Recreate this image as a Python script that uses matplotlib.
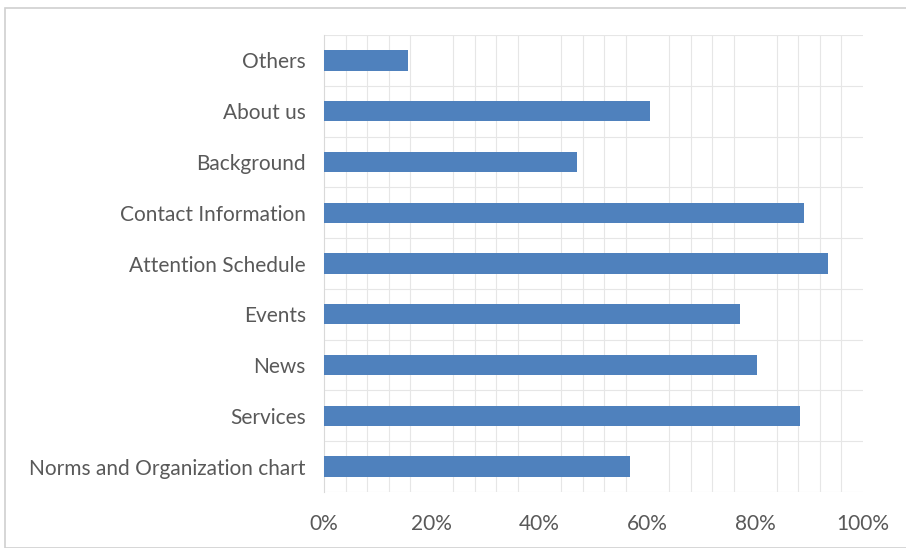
import matplotlib
matplotlib.use("Agg")
import matplotlib.pyplot as plt
from matplotlib.patches import Rectangle
import numpy as np

categories = ["Norms and Organization chart", "Services", "News", "Events",
              "Attention Schedule", "Contact Information", "Background",
              "About us", "Others"]
values = [56.8, 88.3, 80.3, 77.2, 93.5, 89.1, 46.9, 60.5, 15.6]
xticks = [0, 20, 40, 60, 80, 100]
xticklabels = ["0%", "20%", "40%", "60%", "80%", "100%"]

plt.rcParams['font.family'] = ['Lato', 'DejaVu Sans']
fig = plt.figure(figsize=(9.06, 5.48), dpi=100)
ax = fig.add_axes([324/906, 1-492/548, (863-324)/906, (492-35)/548])

y = np.arange(len(categories))
ax.barh(y, values, height=0.4, color="#4f81bd", zorder=3)
ax.set_xlim(0, 100)
ax.set_ylim(-0.5, len(categories)-0.5)

ax.set_xticks(xticks)
ax.set_xticklabels(xticklabels)
ax.set_xticks(np.arange(0, 101, 4), minor=True)
ax.set_yticks(y)
ax.set_yticklabels(categories)
ax.set_yticks(np.arange(-0.5, len(categories), 1), minor=True)
ax.grid(True, which="minor", axis="both", color="#e6e6e6", linewidth=0.8, zorder=0)
ax.tick_params(axis="both", which="both", length=0)
ax.tick_params(axis="x", pad=16, labelsize=15, labelcolor="#595959")
ax.tick_params(axis="y", pad=13, labelsize=15, labelcolor="#595959")
for s in ax.spines.values():
    s.set_visible(False)
ax.spines["left"].set_visible(True)
ax.spines["left"].set_color("#d9d9d9")

fig.patches.append(Rectangle((5/906, 0), 1, 1-8/548, transform=fig.transFigure,
                             fill=False, edgecolor="#d0d0d0", linewidth=1.2))
fig.savefig("out.png", dpi=100)
